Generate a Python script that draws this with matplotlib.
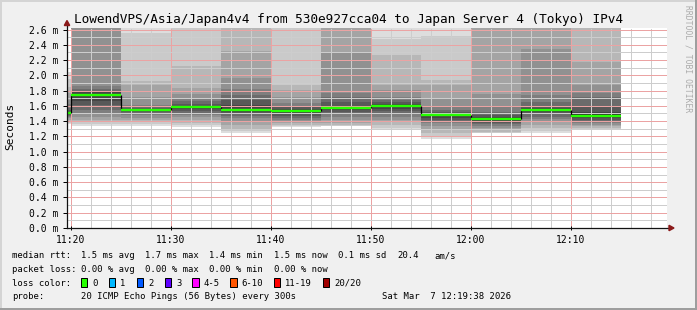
import matplotlib
matplotlib.use("Agg")
import matplotlib.pyplot as plt
from matplotlib.patches import Rectangle, Polygon
from matplotlib.lines import Line2D

W, H, DPI = 697, 310, 100

# ---------------- data ----------------
# time axis in minutes after 11:00
view_start = 19 + 38 / 60          # 11:19:38
view_end = 79 + 38 / 60            # 12:19:38
bin_starts = [15, 20, 25, 30, 35, 40, 45, 50, 55, 60, 65, 70]
bin_width = 5
median_rtt = [1.500, 1.746, 1.549, 1.584, 1.549, 1.536, 1.568, 1.593, 1.486, 1.422, 1.551, 1.472]

ping_1115 = [1.36, 1.38, 1.40, 1.42, 1.44, 1.46, 1.47, 1.48, 1.49, 1.495, 1.505, 1.52, 1.54, 1.57, 1.62, 1.68, 1.77, 1.85, 1.95, 2.05]
ping_1120 = [1.33, 1.36, 1.39, 1.42, 1.45, 1.49, 1.55, 1.61, 1.667, 1.73, 1.76, 1.78, 1.80, 1.82, 1.855, 2.70, 2.80, 2.90, 3.10, 3.40]
ping_1125 = [1.34, 1.36, 1.39, 1.418, 1.44, 1.474, 1.50, 1.52, 1.535, 1.545, 1.553, 1.56, 1.57, 1.58, 1.615, 1.72, 1.877, 1.92, 2.56, 2.80]
ping_1130 = [1.32, 1.35, 1.38, 1.42, 1.45, 1.483, 1.50, 1.536, 1.56, 1.578, 1.59, 1.60, 1.63, 1.66, 1.70, 1.755, 1.83, 2.12, 2.80, 2.90]
ping_1135 = [1.25, 1.27, 1.30, 1.35, 1.40, 1.44, 1.47, 1.506, 1.52, 1.54, 1.56, 1.615, 1.68, 1.745, 1.825, 1.965, 2.32, 2.80, 2.90, 3.00]
ping_1140 = [1.32, 1.335, 1.35, 1.37, 1.39, 1.41, 1.44, 1.47, 1.50, 1.528, 1.545, 1.56, 1.58, 1.60, 1.637, 1.72, 1.81, 1.877, 2.80, 2.90]
ping_1145 = [1.33, 1.34, 1.35, 1.375, 1.42, 1.46, 1.49, 1.52, 1.54, 1.557, 1.575, 1.59, 1.65, 1.72, 1.77, 2.31, 2.80, 2.90, 3.00, 3.10]
ping_1150 = [1.296, 1.31, 1.35, 1.395, 1.42, 1.46, 1.506, 1.53, 1.56, 1.585, 1.60, 1.62, 1.65, 1.68, 1.72, 1.81, 1.877, 2.27, 2.47, 2.80]
ping_1155 = [1.17, 1.20, 1.243, 1.30, 1.33, 1.37, 1.395, 1.42, 1.44, 1.476, 1.49, 1.50, 1.52, 1.55, 1.593, 1.70, 1.877, 1.943, 2.51, 2.80]
ping_1200 = [1.243, 1.25, 1.264, 1.29, 1.31, 1.34, 1.365, 1.38, 1.40, 1.415, 1.43, 1.45, 1.48, 1.52, 1.59, 1.75, 2.80, 2.90, 3.00, 3.10]
ping_1205 = [1.243, 1.27, 1.31, 1.35, 1.395, 1.43, 1.46, 1.49, 1.52, 1.543, 1.555, 1.57, 1.59, 1.65, 1.745, 2.35, 2.80, 2.90, 3.00, 3.10]
ping_1210 = [1.287, 1.295, 1.31, 1.33, 1.35, 1.37, 1.395, 1.42, 1.44, 1.46, 1.49, 1.52, 1.60, 1.72, 1.77, 1.877, 2.175, 2.80, 2.90, 3.00]
pings = [ping_1115, ping_1120, ping_1125, ping_1130, ping_1135, ping_1140,
         ping_1145, ping_1150, ping_1155, ping_1200, ping_1205, ping_1210]

x_major = [20, 30, 40, 50, 60, 70]
x_labels = ["11:20", "11:30", "11:40", "11:50", "12:00", "12:10"]
x_minor = list(range(20, 80, 2))
y_major = [0.0, 0.2, 0.4, 0.6, 0.8, 1.0, 1.2, 1.4, 1.6, 1.8, 2.0, 2.2, 2.4, 2.6]
y_labels = ["0.0 m", "0.2 m", "0.4 m", "0.6 m", "0.8 m", "1.0 m", "1.2 m", "1.4 m",
            "1.6 m", "1.8 m", "2.0 m", "2.2 m", "2.4 m", "2.6 m"]
y_minor = [i / 10 for i in range(0, 27)]
y_max = 2.62

title = "LowendVPS/Asia/Japan4v4 from 530e927cca04 to Japan Server 4 (Tokyo) IPv4"
rtt_stats = ["1.5 ms avg", "1.7 ms max", "1.4 ms min", "1.5 ms now", "0.1 ms sd", "20.4", "am/s"]
loss_stats = ["0.00 % avg", "0.00 % max", "0.00 % min", "0.00 % now"]
loss_labels = ["0", "1", "2", "3", "4-5", "6-10", "11-19", "20/20"]
loss_colors = ["#26ff00", "#00b8ff", "#0059ff", "#5e00ff", "#ff00ff", "#ff5500", "#ff0000", "#a10000"]
probe_text = "20 ICMP Echo Pings (56 Bytes) every 300s"
date_text = "Sat Mar  7 12:19:38 2026"

# ---------------- drawing ----------------
MONO = "DejaVu Sans Mono"
plt.rcParams["font.family"] = MONO

fig = plt.figure(figsize=(W / DPI, H / DPI), dpi=DPI, facecolor="#f0f0f0")


def fx(x):
    return x / W


def fy(y):
    return 1 - y / H


ax = fig.add_axes([fx(67), fy(228), 600 / W, 200 / H])
ax.set_facecolor("white")
ax.set_xlim(view_start, view_end)
ax.set_ylim(0, y_max)

greys = []
for k in range(1, 11):
    g = int(190 / 10 * (10 - k)) + 50
    greys.append("#%02x%02x%02x" % (g, g, g))

for left, p in zip(bin_starts, pings):
    p = sorted(p)
    for k in range(10):
        lo, hi = p[k], p[19 - k]
        ax.bar(left, hi - lo, bottom=lo, width=bin_width, align="edge",
               color=greys[k], linewidth=0, zorder=1)

rights = [b + bin_width for b in bin_starts]
for i in range(1, len(bin_starts)):
    ax.vlines(bin_starts[i], min(median_rtt[i - 1], median_rtt[i]),
              max(median_rtt[i - 1], median_rtt[i]), colors="black", lw=0.9, zorder=3)
ax.hlines(median_rtt, bin_starts, rights, colors="#26ff00", lw=1.7, zorder=4)

ax.set_xticks(x_major)
ax.set_xticklabels(x_labels)
ax.set_xticks(x_minor, minor=True)
ax.set_yticks(y_major)
ax.set_yticklabels(y_labels)
ax.set_yticks(y_minor, minor=True)
ax.set_axisbelow(False)
ax.grid(which="minor", color="#cdcdcd", linestyle=(0, (1, 1)), linewidth=0.72,
        antialiased=False)
ax.grid(which="major", color="#eba3a3", linestyle=(0, (1, 1)), linewidth=0.72,
        antialiased=False)
ax.tick_params(which="minor", length=0)
ax.tick_params(axis="y", which="major", direction="out", length=3, width=0.72,
               pad=3.2, labelsize=7, colors="black")
ax.tick_params(axis="x", which="major", direction="inout", length=3, width=0.72,
               pad=3.5, labelsize=7, colors="black")
for s in ax.spines.values():
    s.set_visible(False)

# axes lines with arrows
axis_col = "#111111"
arrow_col = "#8b1a1a"
fig.add_artist(Line2D([fx(67), fx(670)], [fy(228), fy(228)], color=axis_col, lw=0.9,
                      transform=fig.transFigure, zorder=10))
fig.add_artist(Line2D([fx(67), fx(67)], [fy(228), fy(24)], color=axis_col, lw=0.9,
                      transform=fig.transFigure, zorder=10))
fig.add_artist(Polygon([(fx(669), fy(225.3)), (fx(674), fy(228)), (fx(669), fy(230.7))],
                       closed=True, color=arrow_col, transform=fig.transFigure, zorder=11))
fig.add_artist(Polygon([(fx(64.3), fy(25.5)), (fx(67), fy(20.5)), (fx(69.7), fy(25.5))],
                       closed=True, color=arrow_col, transform=fig.transFigure, zorder=11))

# image border
fig.add_artist(Rectangle((0, fy(2)), 1, 2 / H, transform=fig.transFigure, color="#d4d4d4", lw=0, zorder=0))
fig.add_artist(Rectangle((0, 0), 2 / W, 1, transform=fig.transFigure, color="#d4d4d4", lw=0, zorder=0))
fig.add_artist(Rectangle((0, 0), 1, 2 / H, transform=fig.transFigure, color="#9e9e9e", lw=0, zorder=0))
fig.add_artist(Rectangle((1 - 2 / W, 0), 2 / W, 1, transform=fig.transFigure, color="#9e9e9e", lw=0, zorder=0))

# texts
fig.text(fx(348.5), fy(23.3), title, ha="center", va="baseline", fontsize=9.2, family=MONO)
fig.text(fx(10.5), fy(126.7), "Seconds", ha="center", va="center", rotation=90, fontsize=8, family=MONO)
fig.text(fx(688), fy(59), "RRDTOOL / TOBI OETIKER", ha="center", va="center", rotation=-90,
         fontsize=5.8, color="#ababab", family=MONO)

LS = 6.4
fig.text(fx(12.3), fy(258.5), "median rtt:", ha="left", va="baseline", fontsize=LS)
for xs, s in zip([80.7, 145, 209.3, 274, 338.3, 397.3, 434.3], rtt_stats):
    fig.text(fx(xs), fy(258.5), s, ha="left", va="baseline", fontsize=LS)
fig.text(fx(12.3), fy(272.0), "packet loss:", ha="left", va="baseline", fontsize=LS)
for xs, s in zip([80.7, 145, 209.3, 274], loss_stats):
    fig.text(fx(xs), fy(272.0), s, ha="left", va="baseline", fontsize=LS)
fig.text(fx(12.3), fy(285.6), "loss color:", ha="left", va="baseline", fontsize=LS)
for bx, lab, col in zip([81, 109, 136.7, 164.7, 192.3, 230.3, 274, 322.7], loss_labels, loss_colors):
    fig.add_artist(Rectangle((fx(bx), fy(286.7)), 6.3 / W, 8.3 / H, transform=fig.transFigure,
                             facecolor=col, edgecolor="black", lw=0.72, zorder=5))
    fig.text(fx(bx + 11.3), fy(285.6), lab, ha="left", va="baseline", fontsize=LS)
fig.text(fx(12.3), fy(299.3), "probe:", ha="left", va="baseline", fontsize=LS)
fig.text(fx(80.7), fy(299.3), probe_text, ha="left", va="baseline", fontsize=LS)
fig.text(fx(510.5), fy(299.3), date_text, ha="right", va="baseline", fontsize=LS)

fig.savefig("out.png", dpi=DPI, facecolor=fig.get_facecolor())
